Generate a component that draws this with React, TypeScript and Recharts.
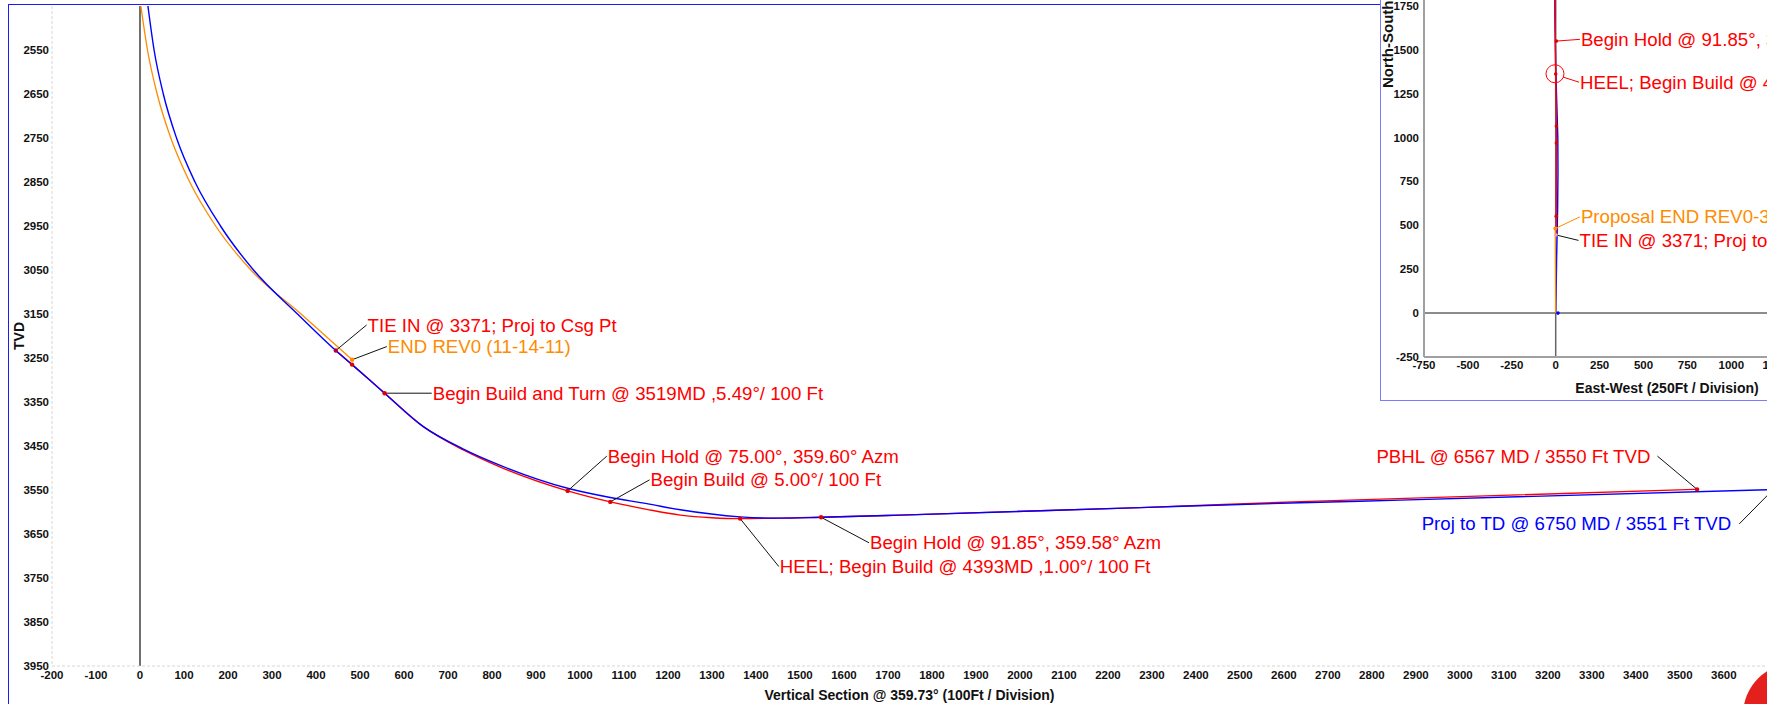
import React from 'react';
import {
  ComposedChart,
  Line,
  Scatter,
  XAxis,
  YAxis,
  ReferenceLine,
  ReferenceDot,
  Label,
} from 'recharts';

const FONT = '"Liberation Sans", Arial, Helvetica, sans-serif';
const RED = '#ff0000';
const ORANGE = '#ff8c00';
const BLUE = '#0000ff';

// ---- section view: vertical section (ft) vs TVD (ft) ----
const proposalVS = [2, 17, 39, 70, 113, 172, 252, 366, 482];
const proposalTVD = [2450, 2550, 2650, 2750, 2850, 2950, 3050, 3150, 3254];

const surveyVS = [18, 32, 53, 83, 125, 183, 258, 358, 445, 482, 556, 644, 735, 819, 972, 1069, 1152, 1228, 1364, 1450, 1548, 1728, 2273, 2637, 2864, 3712];
const surveyTVD = [2450, 2550, 2650, 2750, 2850, 2950, 3050, 3150, 3233, 3265, 3330, 3406, 3457, 3494, 3546, 3567, 3581, 3595, 3611, 3614, 3612, 3607, 3590, 3579, 3573, 3549];

const planVS = [445, 482, 556, 644, 735, 819, 972, 1069, 1152, 1228, 1300, 1364, 1450, 1548, 1728, 2273, 2637, 3539];
const planTVD = [3233, 3265, 3330, 3406, 3459, 3498, 3552, 3577, 3594, 3607, 3613, 3615, 3614, 3612, 3607, 3590, 3576.5, 3548.5];

const planMarkVS = [482, 556, 972, 1069, 1364, 1548, 3539];
const planMarkTVD = [3265, 3330, 3552, 3577, 3615, 3612, 3548.5];
const tieInVS = [445];
const tieInTVD = [3233];
const endRevVS = [482];
const endRevTVD = [3254];

const vsTicks = [-200, -100, 0, 100, 200, 300, 400, 500, 600, 700, 800, 900, 1000, 1100, 1200, 1300, 1400, 1500, 1600, 1700, 1800, 1900, 2000, 2100, 2200, 2300, 2400, 2500, 2600, 2700, 2800, 2900, 3000, 3100, 3200, 3300, 3400, 3500, 3600];
const tvdTicks = [2550, 2650, 2750, 2850, 2950, 3050, 3150, 3250, 3350, 3450, 3550, 3650, 3750, 3850, 3950];

// ---- plan view inset: east-west (ft) vs north-south (ft) ----
const surveyEW = [0, 3, 5, 8, 11, 13, 12, 6, 0, -3, -6];
const surveyNS = [0, 150, 300, 450, 600, 800, 1000, 1200, 1400, 1600, 1800];
const planEW = [2, 3, 4, 4, 0, -2, -5];
const planNS = [445, 552, 968, 1065, 1361, 1549, 1800];
const proposalEW = [0, -2];
const proposalNS = [0, 482];
const planMarkEW = [3, 4, 4, 0, 4];
const planMarkNS = [552, 968, 1065, 1361, 1549];

const ewTicks = [-750, -500, -250, 0, 250, 500, 750, 1000, 1250, 1500, 1750, 2000];
const nsTicks = [-250, 0, 250, 500, 750, 1000, 1250, 1500, 1750];

// annotations: [x, y] of the marker and of the label end of the leader
type Note = { text: string; color: string; lead: string; from: number[]; to: number[]; anchor?: 'start' | 'end'; dx?: number };

const sectionNotes: Note[] = [
  { text: 'TIE IN @ 3371; Proj to Csg Pt', color: RED, lead: '#111', from: [445, 3233], to: [515, 3175] },
  { text: 'END REV0 (11-14-11)', color: ORANGE, lead: '#111', from: [482, 3254], to: [561, 3224] },
  { text: 'Begin Build and Turn @ 3519MD ,5.49°/ 100 Ft', color: RED, lead: '#111', from: [556, 3330], to: [663, 3330] },
  { text: 'Begin Hold @ 75.00°, 359.60° Azm', color: RED, lead: '#111', from: [972, 3552], to: [1061, 3473] },
  { text: 'Begin Build @ 5.00°/ 100 Ft', color: RED, lead: '#111', from: [1069, 3577], to: [1158, 3527] },
  { text: 'HEEL; Begin Build @ 4393MD ,1.00°/ 100 Ft', color: RED, lead: '#111', from: [1364, 3615], to: [1452, 3724] },
  { text: 'Begin Hold @ 91.85°, 359.58° Azm', color: RED, lead: '#111', from: [1548, 3612], to: [1657, 3670] },
  { text: 'PBHL @ 6567 MD / 3550 Ft TVD', color: RED, lead: '#111', from: [3539, 3548.5], to: [3449, 3473], anchor: 'end', dx: -7 },
  { text: 'Proj to TD @ 6750 MD / 3551 Ft TVD', color: BLUE, lead: '#111', from: [3712, 3549], to: [3635, 3627], anchor: 'end', dx: -8 },
];

const planNotes: Note[] = [
  { text: 'Begin Hold @ 91.85°, 359.58° Azm', color: RED, lead: RED, from: [4, 1549], to: [138, 1559] },
  { text: 'HEEL; Begin Build @ 4393MD ,1.00°/ 100 Ft', color: RED, lead: RED, from: [42, 1344], to: [133, 1315] },
  { text: 'Proposal END REV0-3', color: ORANGE, lead: ORANGE, from: [-2, 482], to: [138, 548] },
  { text: 'TIE IN @ 3371; Proj to Csg Pt', color: RED, lead: '#111', from: [2, 445], to: [130, 414] },
];

const pts = (xs: number[], ys: number[], kx: string, ky: string) =>
  xs.map((x, i) => ({ [kx]: x, [ky]: ys[i] }));

const proposal = pts(proposalVS, proposalTVD, 'vs', 'tvd');
const survey = pts(surveyVS, surveyTVD, 'vs', 'tvd');
const plan = pts(planVS, planTVD, 'vs', 'tvd');
const planMarks = pts(planMarkVS, planMarkTVD, 'vs', 'tvd');
const tieIn = pts(tieInVS, tieInTVD, 'vs', 'tvd');
const endRev = pts(endRevVS, endRevTVD, 'vs', 'tvd');

const surveyPlan = pts(surveyEW, surveyNS, 'ew', 'ns');
const planPlan = pts(planEW, planNS, 'ew', 'ns');
const proposalPlan = pts(proposalEW, proposalNS, 'ew', 'ns');
const planMarksPlan = pts(planMarkEW, planMarkNS, 'ew', 'ns');

const tickStyle = { fontSize: 11.5, fontWeight: 700, fill: '#111', fontFamily: FONT };

const dotShape = (color: string, r = 2.2) => (p: any) => <circle cx={p.cx} cy={p.cy} r={r} fill={color} />;

const renderNotes = (notes: Note[], prefix: string) =>
  notes.map((n, i) => (
    <React.Fragment key={`${prefix}${i}`}>
      <ReferenceLine
        segment={[{ x: n.from[0], y: n.from[1] }, { x: n.to[0], y: n.to[1] }]}
        stroke={n.lead}
        strokeWidth={1}
        ifOverflow="visible"
      />
      <ReferenceDot
        x={n.to[0]}
        y={n.to[1]}
        r={1}
        ifOverflow="visible"
        shape={(p: any) => (
          <text
            x={p.cx + (n.dx ?? 1)}
            y={p.cy}
            dy="0.35em"
            textAnchor={n.anchor ?? 'start'}
            fontSize={18.67}
            fontFamily={FONT}
            fill={n.color}
          >
            {n.text}
          </text>
        )}
      />
    </React.Fragment>
  ));

const tvdTitle = (props: any) => {
  const { viewBox } = props;
  const x = viewBox.x + 19;
  const y = viewBox.y + viewBox.height / 2;
  return (
    <text x={x} y={y} transform={`rotate(-90 ${x} ${y})`} textAnchor="middle" dominantBaseline="central"
      fontSize={14} fontWeight={700} fontFamily={FONT} fill="#111">TVD</text>
  );
};

const nsTitle = (props: any) => {
  const { viewBox } = props;
  const x = viewBox.x + 13;
  const y = 88;
  return (
    <text x={x} y={y} transform={`rotate(-90 ${x} ${y})`} textAnchor="start"
      fontSize={15} fontWeight={700} fontFamily={FONT} fill="#111">North-South (250Ft / Division)</text>
  );
};

export default function App() {
  return (
    <div style={{ position: 'absolute', left: 0, top: 0, width: 1767, height: 704, overflow: 'hidden', background: '#fff' }}>
      {/* outer frame */}
      <div style={{ position: 'absolute', left: 8, top: 4, width: 2000, height: 1000, borderLeft: '1.5px solid #1a1aff', borderTop: '1.5px solid #1a1aff' }} />

      {/* Section view */}
      <div style={{ position: 'absolute', left: 0, top: 0 }}>
        <ComposedChart width={1767} height={704} margin={{ top: 6, right: 0, bottom: 0, left: 0 }}>
          <XAxis
            type="number"
            dataKey="vs"
            domain={[-200, 3698]}
            allowDataOverflow
            ticks={vsTicks}
            interval={0}
            height={38}
            tickLine={false}
            tickSize={0}
            tickMargin={5}
            tick={tickStyle}
            axisLine={{ stroke: '#d6d6d6', strokeDasharray: '3 2' }}
          >
            <Label value="Vertical Section @ 359.73° (100Ft / Division)" position="insideBottom" offset={4}
              fontSize={14} fontWeight={700} fontFamily={FONT} fill="#111" />
          </XAxis>
          <YAxis
            type="number"
            domain={[2450, 3950]}
            reversed
            allowDataOverflow
            ticks={tvdTicks}
            interval={0}
            width={52}
            tickLine={false}
            tickSize={0}
            tickMargin={3}
            tick={tickStyle}
            axisLine={{ stroke: '#d6d6d6', strokeDasharray: '3 2' }}
          >
            <Label content={tvdTitle} />
          </YAxis>
          <ReferenceLine x={0} stroke="#111" strokeWidth={1.2} />
          <Line data={proposal} dataKey="tvd" type="monotone" stroke={ORANGE} strokeWidth={1.3} dot={false} isAnimationActive={false} />
          <Line data={plan} dataKey="tvd" type="monotone" stroke={RED} strokeWidth={1.4} dot={false} isAnimationActive={false} />
          <Line data={survey} dataKey="tvd" type="monotone" stroke={BLUE} strokeWidth={1.4} dot={false} isAnimationActive={false} />
          {renderNotes(sectionNotes, 's')}
          <Scatter data={planMarks} dataKey="tvd" shape={dotShape('#e00000')} isAnimationActive={false} />
          <Scatter data={tieIn} dataKey="tvd" shape={dotShape('#b0003a')} isAnimationActive={false} />
          <Scatter data={endRev} dataKey="tvd" shape={dotShape(ORANGE)} isAnimationActive={false} />
        </ComposedChart>
      </div>

      {/* Plan view inset */}
      <div style={{ position: 'absolute', left: 1380, top: -2, width: 600, height: 403, boxSizing: 'border-box', background: '#fff', borderLeft: '1.5px solid #7b7bff', borderBottom: '1.5px solid #7b7bff' }} />
      <div style={{ position: 'absolute', left: 1380, top: 0 }}>
        <ComposedChart width={530} height={400} margin={{ top: 0, right: 0, bottom: 0, left: 0 }}>
          <XAxis
            type="number"
            dataKey="ew"
            domain={[-750, 2017.7]}
            allowDataOverflow
            ticks={ewTicks}
            interval={0}
            height={43}
            tickLine={false}
            tickSize={0}
            tickMargin={4}
            tick={tickStyle}
            axisLine={{ stroke: '#a0a0a0', strokeWidth: 2 }}
          >
            <Label value="East-West (250Ft / Division)" position="insideBottom" offset={7}
              fontSize={14} fontWeight={700} fontFamily={FONT} fill="#111" />
          </XAxis>
          <YAxis
            type="number"
            domain={[-250, 1783]}
            allowDataOverflow
            ticks={nsTicks}
            interval={0}
            width={44}
            tickLine={false}
            tickSize={0}
            tickMargin={5}
            tick={tickStyle}
            axisLine={{ stroke: '#a0a0a0', strokeWidth: 2 }}
          >
            <Label content={nsTitle} />
          </YAxis>
          <ReferenceLine x={0} stroke="#666" strokeWidth={1.5} />
          <ReferenceLine y={0} stroke="#666" strokeWidth={1.5} />
          <Line data={surveyPlan} dataKey="ns" type="linear" stroke={BLUE} strokeWidth={1.4} dot={false} isAnimationActive={false} />
          <Line data={planPlan} dataKey="ns" type="linear" stroke={RED} strokeWidth={1.4} dot={false} isAnimationActive={false} />
          <Line data={proposalPlan} dataKey="ns" type="linear" stroke={ORANGE} strokeWidth={1.3} dot={false} isAnimationActive={false} />
          {renderNotes(planNotes, 'p')}
          <ReferenceDot x={-4} y={1363} r={9} fill="none" stroke={RED} strokeWidth={1} />
          <Scatter data={planMarksPlan} dataKey="ns" shape={dotShape('#e00000', 1.8)} isAnimationActive={false} />
          <Scatter data={[{ ew: 2, ns: 445 }]} dataKey="ns" shape={dotShape('#ff9a9a', 1.8)} isAnimationActive={false} />
          <Scatter data={[{ ew: -2, ns: 482 }]} dataKey="ns" shape={dotShape(ORANGE, 2)} isAnimationActive={false} />
          <Scatter data={[{ ew: 13, ns: 0 }]} dataKey="ns" shape={dotShape(BLUE, 1.8)} isAnimationActive={false} />
        </ComposedChart>
      </div>

      {/* corner logo fragment */}
      <div style={{ position: 'absolute', left: 1743, top: 663, width: 104, height: 104, borderRadius: '50%', background: '#e3201b' }} />
    </div>
  );
}
